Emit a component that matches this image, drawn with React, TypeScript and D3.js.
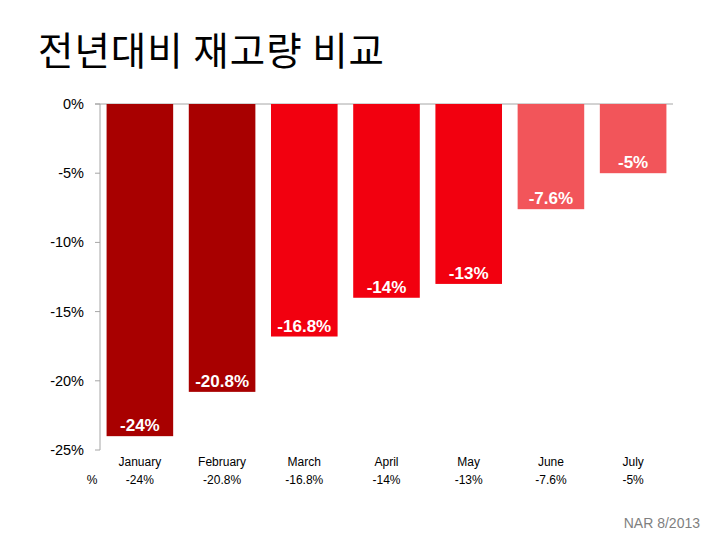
import React from "react";
import * as d3 from "d3";

const title = "전년대비 재고량 비교";
const months = ["January", "February", "March", "April", "May", "June", "July"];
const values = [-24, -20.8, -16.8, -14, -13, -7.6, -5];
const valueLabels = ["-24%", "-20.8%", "-16.8%", "-14%", "-13%", "-7.6%", "-5%"];
const yTicks = [0, -5, -10, -15, -20, -25];
const barColors = ["#A80000", "#A80000", "#F2000F", "#F2000F", "#F2000F", "#F2555A", "#F2555A"];
const source = "NAR 8/2013";
const rowHeader = "%";

const W = 720;
const H = 540;
const left = 100;
const right = 673;
const top = 104;
const bottom = 450;

export default function App() {
  const x = d3
    .scaleBand<string>()
    .domain(months)
    .range([left, right])
    .paddingInner(0.19)
    .paddingOuter(0.08);
  const y = d3.scaleLinear().domain([0, -25]).range([top, bottom]);
  const font = "'Liberation Sans', Arial, sans-serif";

  return (
    <svg
      width={W}
      height={H}
      viewBox={`0 0 ${W} ${H}`}
      style={{ position: "absolute", left: 0, top: 0, background: "#fff" }}
    >
      <text
        x={38}
        y={65}
        fontFamily="'Noto Sans CJK KR', sans-serif"
        fontSize={38.5}
        letterSpacing={1}
        fill="#000"
      >
        {title}
      </text>

      {/* y axis */}
      <line x1={left} x2={left} y1={y(0)} y2={y(-25)} stroke="#a6a6a6" strokeWidth={1} />
      <line x1={left - 5} x2={right} y1={y(0)} y2={y(0)} stroke="#a6a6a6" strokeWidth={1} />
      {yTicks.map((t) => (
        <g key={t}>
          <line x1={left - 5} x2={left} y1={y(t)} y2={y(t)} stroke="#a6a6a6" strokeWidth={1} />
          <text
            x={84}
            y={y(t) + 5}
            textAnchor="end"
            fontFamily={font}
            fontSize={14.5}
            fill="#000"
          >
            {`${t}%`}
          </text>
        </g>
      ))}

      {/* bars */}
      {months.map((m, i) => {
        const x0 = x(m)!;
        const bw = x.bandwidth();
        const y0 = y(0);
        const y1 = y(values[i]);
        return (
          <g key={m}>
            <rect x={x0} y={y0} width={bw} height={y1 - y0} fill={barColors[i]} />
            <text
              x={x0 + bw / 2}
              y={y1 - 5}
              textAnchor="middle"
              fontFamily={font}
              fontWeight="bold"
              fontSize={17}
              fill="#fff"
            >
              {valueLabels[i]}
            </text>
            <text
              x={x0 + bw / 2}
              y={466}
              textAnchor="middle"
              fontFamily={font}
              fontSize={12}
              fill="#000"
            >
              {m}
            </text>
            <text
              x={x0 + bw / 2}
              y={484}
              textAnchor="middle"
              fontFamily={font}
              fontSize={12}
              fill="#000"
            >
              {valueLabels[i]}
            </text>
          </g>
        );
      })}
      <text x={92} y={484} textAnchor="middle" fontFamily={font} fontSize={12} fill="#000">
        {rowHeader}
      </text>

      <text x={700} y={528} textAnchor="end" fontFamily={font} fontSize={14} fill="#7f7f7f">
        {source}
      </text>
    </svg>
  );
}
